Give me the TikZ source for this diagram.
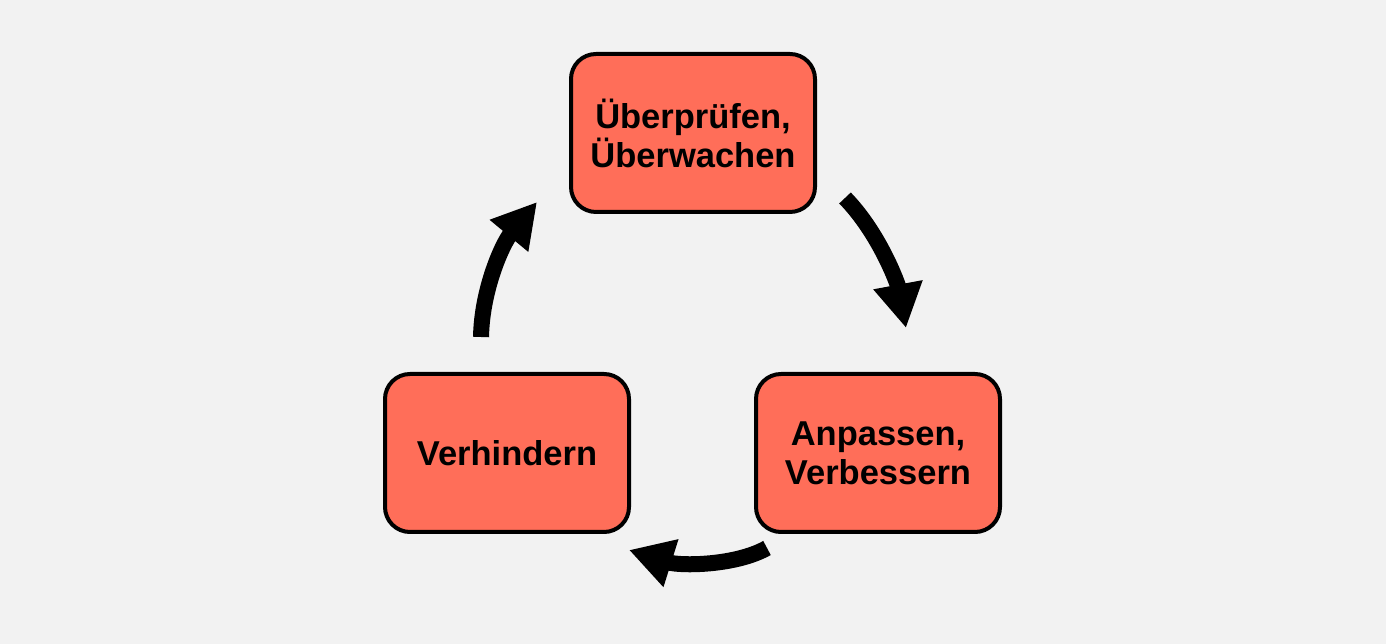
\documentclass[tikz,border=0pt]{standalone}
\usepackage{fontspec}
\setmainfont{Liberation Sans}
\usepackage{tikz}
\usetikzlibrary{arrows.meta}

\definecolor{boxred}{RGB}{255,110,89}
\definecolor{bggray}{RGB}{242,242,242}

\begin{document}
\begin{tikzpicture}
  [x=1pt, y=1pt,
   stage/.style={draw, line width=4pt, fill=boxred, rounded corners=25pt,
     minimum width=244pt, minimum height=158pt, align=center,
     font=\fontsize{34.5}{39}\selectfont\bfseries},
   cycle/.style={line width=16pt, -{Triangle[length=44pt, width=47pt]}}]
  \fill[bggray] (0, 0) rectangle (1386, 644);
  \useasboundingbox (0, 0) rectangle (1386, 644);

  \node[stage] (n1) at (693, 511) {Überprüfen,\\Überwachen};
  \node[stage] (n2) at (878, 191) {Anpassen,\\Verbessern};
  \node[stage] (n3) at (507, 191) {Verhindern};

  \coordinate (a1) at (845, 446);
  \coordinate (b1) at (906, 316);
  \coordinate (a2) at (767, 96);
  \coordinate (b2) at (629, 94);
  \coordinate (a3) at (481, 307);
  \coordinate (b3) at (537, 442);

  \draw[cycle] (a1) .. controls (880, 410) and (898, 359) .. (b1);
  \draw[cycle] (a2) .. controls (735, 78) and (680, 78) .. (b2);
  \draw[cycle] (a3) .. controls (482, 356) and (503, 401) .. (b3);
\end{tikzpicture}
\end{document}
